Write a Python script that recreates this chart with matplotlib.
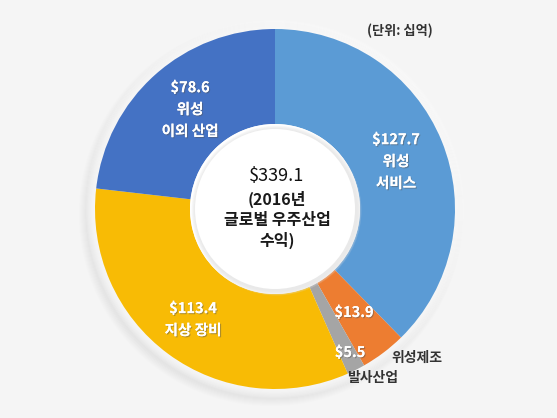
import matplotlib
matplotlib.use("Agg")
import matplotlib.pyplot as plt
import matplotlib.patheffects as pe
from matplotlib.patches import Circle

plt.rcParams['font.family'] = ['Noto Sans CJK KR', 'DejaVu Sans']

categories = ["위성 서비스", "위성제조", "발사산업", "지상 장비", "위성 이외 산업"]
values = [127.7, 13.9, 5.5, 113.4, 78.6]
colors = ["#5b9bd5", "#ed7d31", "#a5a5a5", "#f8bb05", "#4472c4"]
total_label = "$339.1"
center_sub = "(2016년\n글로벌 우주산업\n수익)"
unit_label = "(단위: 십억)"

W, H = 557, 418
fig = plt.figure(figsize=(W / 100, H / 100), dpi=100)
fig.patch.set_facecolor("#f5f5f5")
ax = fig.add_axes([0, 0, 1, 1])

def P(x, y):
    return x, H - y

cx, cy = P(275, 209)
R = 180
hole = 85

# soft shadow / glow around donut
for k in range(12, 0, -1):
    ax.add_patch(Circle((cx - 4, cy - 5), R + k, color="#cfcfcf", alpha=0.04, lw=0, zorder=0))
for k in range(9, 0, -1):
    ax.add_patch(Circle((cx, cy), R + k, color="white", alpha=0.15, lw=0, zorder=0.5))

ax.pie(values, colors=colors, startangle=90, counterclock=False, center=(cx, cy),
       radius=R, wedgeprops=dict(width=R - hole, linewidth=0), frame=True)
ax.set_xlim(0, W)
ax.set_ylim(0, H)
ax.set_aspect("equal")
ax.axis("off")

# inner hole with soft inner shadow
ax.add_patch(Circle((cx, cy), hole, color="white", lw=0, zorder=3))
for k in range(6):
    ax.add_patch(Circle((cx + 1.5, cy - 1.5), hole - k * 0.8, color="#e2e2e2", alpha=0.18,
                        lw=0, zorder=3.05))
ax.add_patch(Circle((cx, cy), hole - 5, color="white", lw=0, zorder=3.1))

shadow = [pe.withSimplePatchShadow(offset=(0.8, -0.8), shadow_rgbFace="#555555", alpha=0.45), pe.Normal()]
wkw = dict(color="white", fontsize=10.5, fontweight="bold", ha="center", va="center",
           zorder=5, linespacing=1.45, path_effects=shadow)

ax.text(*P(190, 109), f"${values[4]}\n위성\n이외 산업", **wkw)
ax.text(*P(396, 161), f"${values[0]}\n위성\n서비스", **wkw)
ax.text(*P(193, 319), f"${values[3]}\n지상 장비", **wkw)
ax.text(*P(354, 312), f"${values[1]}", **wkw)
ax.text(*P(350, 352), f"${values[2]}", **wkw)

ax.text(*P(277, 176), total_label, fontsize=13, fontweight="medium", color="#111111",
        ha="center", va="center", zorder=6)
ax.text(*P(277, 220), center_sub, fontsize=11.5, fontweight="bold", color="#1a1a1a",
        ha="center", va="center", linespacing=1.3, zorder=6)

ax.text(*P(417, 358), categories[1], fontsize=10, fontweight="bold", color="#333333",
        ha="center", va="center", zorder=6)
ax.text(*P(373, 378), categories[2], fontsize=10, fontweight="bold", color="#333333",
        ha="center", va="center", zorder=6)
ax.text(*P(400, 31), unit_label, fontsize=9.5, fontweight="bold", color="#333333",
        ha="center", va="center", zorder=6)

fig.savefig("out.png", dpi=100, facecolor=fig.get_facecolor())
